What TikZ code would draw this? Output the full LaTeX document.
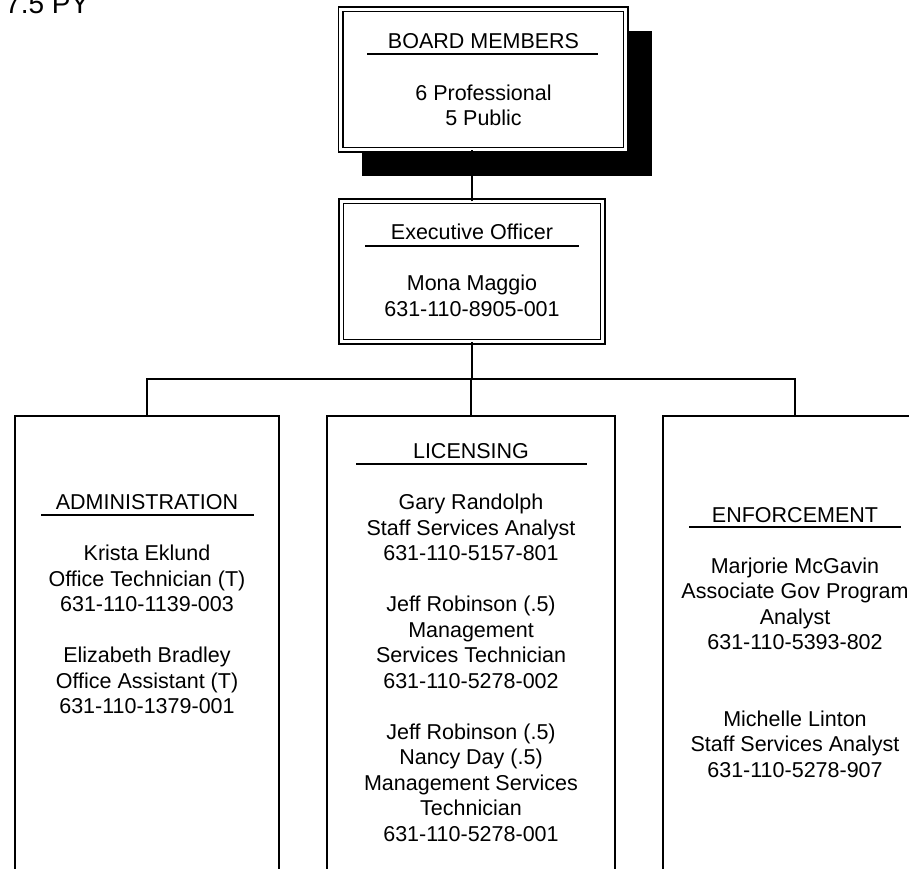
\documentclass[tikz,border=0pt]{standalone}
\usepackage{fontspec}
\setmainfont{Liberation Sans}
\begin{document}
\begin{tikzpicture}[x=1pt,y=-1pt,
  txt/.style={font=\fontsize{21.5}{25.5}\selectfont, inner sep=0pt, outer sep=0pt, align=center, anchor=north},
  ttl/.style={font=\fontsize{21.5}{25.5}\selectfont, inner sep=0pt, anchor=base},
  dbox/.style={draw, double, line width=1.2pt, double distance=3.3pt, fill=white, inner sep=0pt, outer sep=0pt},
  sbox/.style={draw, line width=1.4pt, inner sep=0pt, outer sep=0pt, anchor=north, minimum height=484pt},
  ln/.style={line width=1.4pt},
  uline/.style={line width=1.3pt}]
\useasboundingbox (0,0) rectangle (909,868);
\clip (0,0) rectangle (909,868);

% heading
\node[font=\fontsize{28}{30}\selectfont, inner sep=0pt, anchor=base west] (py) at (5,13) {7.5 PY};

% board with shadow
\fill (362,31) rectangle (652,176);
\node[dbox, minimum width=285pt, minimum height=140.5pt] (board) at (483.25,79.5) {};
\node[ttl] (boardttl) at (483.5,48.7) {BOARD MEMBERS};
\draw[uline] (367,54) -- (598,54);
\node[txt] (boardtxt) at (483.5,83) {\rule{0pt}{17pt}6 Professional\\5 Public};

% executive officer
\node[dbox, minimum width=261.5pt, minimum height=140.5pt] (exec) at (472,271.5) {};
\node[ttl] (execttl) at (472,239.7) {Executive Officer};
\draw[uline] (365,246) -- (579,246);
\node[txt] (exectxt) at (472,273.7) {\rule{0pt}{17pt}Mona Maggio\\631-110-8905-001};

% units
\node[sbox, minimum width=264pt] (admin) at (147,416) {};
\node[sbox, minimum width=288pt] (lic) at (471,416) {};
\node[sbox, minimum width=264pt] (enf) at (795,416) {};

% connectors
\coordinate (bus) at (472,379);
\draw[ln] (exec.north) -- (exec.north |- board.south);
\draw[ln] (exec.south) -- (bus);
\draw[ln] (admin.north) |- (bus) -| (enf.north);
\draw[ln] (lic.north) -- (lic.north |- bus);

% administration
\node[ttl] (adminttl) at (147,509.7) {ADMINISTRATION};
\draw[uline] (41,515) -- (254,515);
\node[txt] (admintxt) at (147,543.7) {\rule{0pt}{17pt}Krista Eklund\\Office Technician (T)\\631-110-1139-003\\[25.5pt]Elizabeth Bradley\\Office Assistant (T)\\631-110-1379-001};

% licensing
\node[ttl] (licttl) at (471,458.7) {LICENSING};
\draw[uline] (356,464) -- (587,464);
\node[txt] (lictxt) at (471,492.7) {\rule{0pt}{17pt}Gary Randolph\\Staff Services Analyst\\631-110-5157-801\\[25.5pt]Jeff Robinson (.5)\\Management\\Services Technician\\631-110-5278-002\\[25.5pt]Jeff Robinson (.5)\\Nancy Day (.5)\\Management Services\\Technician\\631-110-5278-001};

% enforcement
\node[ttl] (enfttl) at (795,522.7) {ENFORCEMENT};
\draw[uline] (689,527) -- (901,527);
\node[txt] (enftxt) at (795,556.2) {\rule{0pt}{17pt}Marjorie McGavin\\Associate Gov Program\\Analyst\\631-110-5393-802\\[51pt]Michelle Linton\\Staff Services Analyst\\631-110-5278-907};
\end{tikzpicture}
\end{document}
